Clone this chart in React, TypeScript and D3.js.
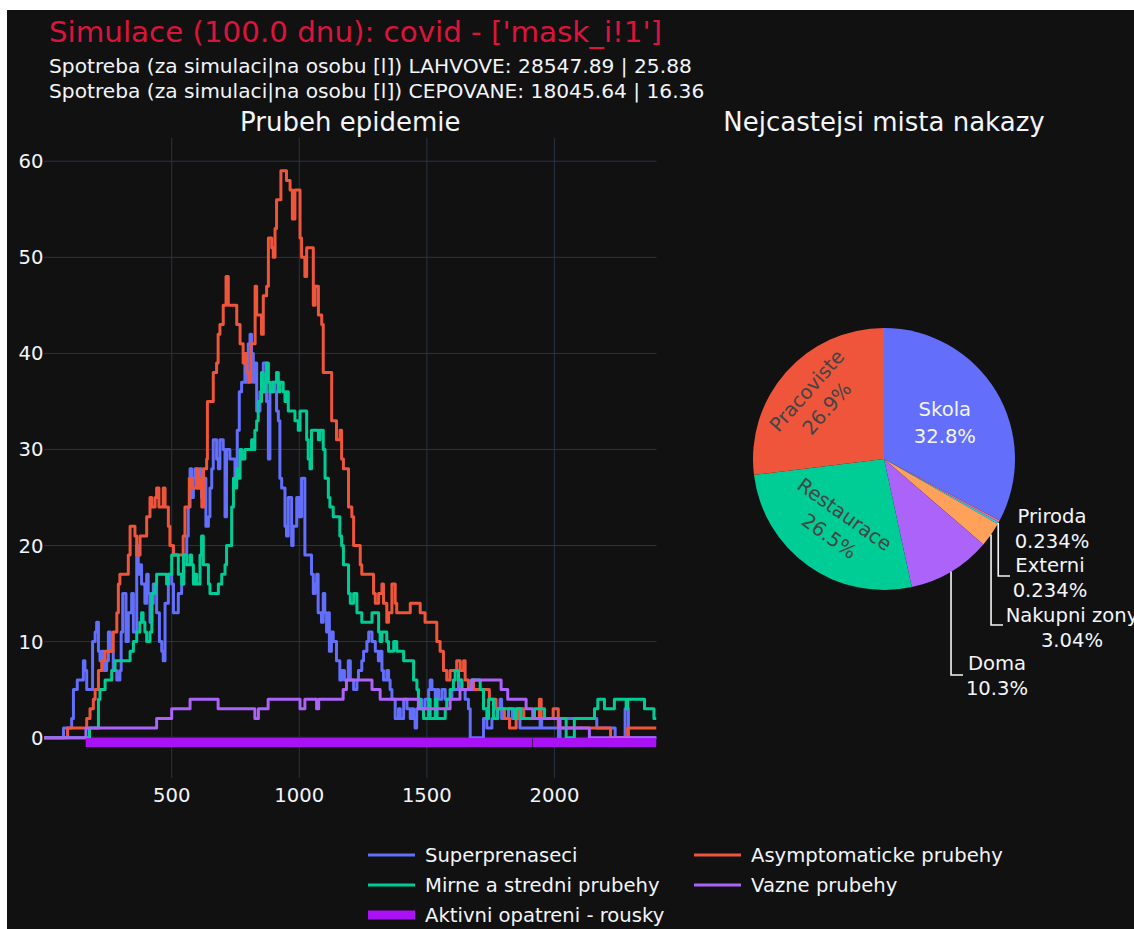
import React from "react";
import * as d3 from "d3";

// ---------------- DATA ----------------
const titleText = "Simulace (100.0 dnu): covid - ['mask_i!1']";
const subtitleLines = [
  "Spotreba (za simulaci|na osobu [l]) LAHVOVE: 28547.89 | 25.88",
  "Spotreba (za simulaci|na osobu [l]) CEPOVANE: 18045.64 | 16.36",
];
const lineTitle = "Prubeh epidemie";
const pieTitle = "Nejcastejsi mista nakazy";

const xTicks = [500, 1000, 1500, 2000];
const yTicks = [0, 10, 20, 30, 40, 50, 60];

const seriesNames = [
  "Superprenaseci",
  "Asymptomaticke prubehy",
  "Mirne a stredni prubehy",
  "Vazne prubehy",
  "Aktivni opatreni - rousky",
];

const superprenaseci: [number, number][] = [
  [0,0],[69,0],[76,1],[102,1],[108,2],[115,5],[130,6],[147,6],[154,8],[160,7],[167,5],[180,5],[190,10],[200,11],[206,12],[213,9],[219,8],[226,9],[235,7],[245,8],[252,11],[260,9],[271,7],[285,6],[297,7],[302,11],[308,15],[321,10],[330,13],[343,15],[350,11],[363,20],[369,17],[376,18],[382,16],[395,14],[402,17],[408,15],[415,12],[422,14],[428,16],[435,16],[441,13],[452,10],[461,9],[467,8],[474,14],[487,17],[500,16],[507,13],[520,13],[526,15],[539,16],[548,19],[559,21],[565,24],[572,28],[578,25],[585,27],[591,28],[598,26],[611,28],[617,25],[627,27],[634,22],[644,23],[650,26],[657,28],[663,31],[676,29],[683,28],[689,31],[702,30],[709,23],[715,30],[728,29],[748,27],[757,32],[765,36],[774,37],[787,39],[794,37],[800,41],[807,42],[813,40],[820,37],[827,39],[833,34],[846,36],[853,36],[859,39],[872,35],[879,29],[885,36],[892,37],[905,36],[911,34],[918,33],[924,27],[931,26],[944,22],[950,21],[957,25],[970,20],[976,22],[990,25],[1000,23],[1009,27],[1016,27],[1022,19],[1042,19],[1048,17],[1055,15],[1062,16],[1068,17],[1074,13],[1087,12],[1094,15],[1100,13],[1107,11],[1114,13],[1118,9],[1126,11],[1133,10],[1146,8],[1159,6],[1166,7],[1177,6],[1192,8],[1200,6],[1213,5],[1226,6],[1232,7],[1245,8],[1252,9],[1265,10],[1272,11],[1285,10],[1298,9],[1310,8],[1317,9],[1324,7],[1330,6],[1343,7],[1350,6],[1356,5],[1363,4],[1376,2],[1389,3],[1396,2],[1409,4],[1422,3],[1435,2],[1441,3],[1448,2],[1454,1],[1460,3],[1467,4],[1480,3],[1493,4],[1507,5],[1513,6],[1520,5],[1533,4],[1540,5],[1546,4],[1559,5],[1572,4],[1598,5],[1624,6],[1637,5],[1650,4],[1663,3],[1670,0],[1715,0],[1722,2],[1735,1],[1755,2],[1775,3],[1787,4],[1793,2],[1820,3],[1835,2],[1853,3],[1865,1],[1944,2],[1950,1],[2016,0],[2022,2],[2153,2],[2166,1],[2238,0],[2277,3],[2290,0],[2400,0],
];

const asymptomaticke: [number, number][] = [
  [0,0],[92,1],[160,1],[167,2],[180,3],[193,4],[200,5],[213,7],[226,8],[239,9],[258,9],[271,11],[285,13],[291,16],[297,17],[324,17],[330,19],[337,22],[350,22],[356,21],[363,19],[376,21],[390,21],[402,23],[415,25],[422,24],[435,25],[441,26],[450,24],[467,26],[474,24],[487,22],[493,20],[507,19],[539,19],[545,21],[552,24],[560,24],[569,27],[580,26],[598,28],[605,26],[612,27],[618,24],[625,28],[637,29],[640,35],[650,35],[663,38],[676,39],[682,42],[689,43],[702,45],[713,48],[722,45],[742,45],[755,43],[768,41],[780,39],[787,40],[794,38],[804,37],[810,41],[820,41],[827,47],[833,44],[840,44],[852,42],[859,46],[872,47],[879,52],[892,51],[898,50],[905,53],[911,56],[924,56],[928,59],[944,59],[950,58],[964,57],[973,54],[983,57],[996,57],[1003,52],[1009,50],[1022,48],[1029,51],[1042,51],[1055,45],[1062,47],[1075,44],[1088,43],[1094,38],[1120,38],[1127,33],[1140,33],[1146,31],[1160,32],[1166,29],[1173,28],[1186,28],[1193,24],[1206,23],[1213,20],[1232,20],[1239,18],[1245,17],[1285,17],[1291,15],[1298,14],[1311,15],[1324,16],[1330,14],[1343,12],[1350,13],[1363,16],[1376,14],[1382,13],[1428,13],[1435,14],[1455,14],[1474,13],[1493,12],[1526,12],[1539,10],[1552,9],[1565,7],[1578,6],[1591,7],[1617,8],[1631,7],[1644,8],[1650,6],[1663,5],[1676,6],[1683,5],[1745,4],[1771,3],[1804,2],[1824,1],[1843,1],[1850,2],[1863,3],[1880,2],[1941,4],[1948,2],[1995,3],[2007,3],[2015,1],[2220,0],[2287,1],[2400,1],
];

const mirne: [number, number][] = [
  [0,0],[175,0],[178,1],[208,1],[213,4],[219,5],[235,5],[239,6],[260,6],[265,7],[278,8],[330,8],[337,9],[350,10],[363,11],[375,12],[382,13],[388,12],[395,11],[402,10],[415,11],[422,15],[435,16],[441,17],[474,17],[480,16],[487,17],[500,19],[520,19],[526,17],[539,16],[546,19],[559,18],[572,19],[578,18],[585,16],[591,17],[598,16],[611,19],[617,21],[624,18],[631,18],[644,16],[650,15],[676,15],[683,16],[696,17],[709,18],[715,20],[728,20],[735,24],[742,27],[748,26],[755,28],[761,27],[768,30],[775,29],[787,30],[813,31],[820,30],[826,32],[833,33],[839,35],[852,38],[859,36],[866,37],[872,39],[879,37],[885,36],[898,37],[911,38],[918,36],[924,37],[937,36],[944,35],[950,36],[957,34],[983,33],[996,32],[1003,34],[1022,34],[1029,31],[1035,29],[1042,28],[1048,32],[1068,32],[1075,31],[1081,32],[1094,30],[1101,27],[1114,25],[1120,24],[1133,23],[1150,23],[1159,21],[1166,20],[1173,18],[1186,18],[1193,15],[1200,14],[1213,15],[1226,13],[1245,12],[1278,12],[1285,13],[1304,13],[1311,11],[1317,10],[1324,11],[1337,11],[1343,10],[1350,9],[1370,10],[1382,9],[1409,8],[1441,8],[1448,6],[1461,5],[1467,4],[1474,3],[1487,2],[1507,4],[1513,2],[1533,4],[1540,2],[1572,3],[1578,4],[1591,5],[1604,6],[1611,7],[1624,6],[1637,5],[1676,6],[1709,5],[1722,3],[1735,2],[1742,4],[1761,2],[1778,3],[1843,2],[1850,3],[1869,2],[1922,3],[1961,2],[2046,0],[2078,2],[2157,3],[2170,4],[2196,3],[2235,4],[2281,3],[2287,4],[2353,3],[2390,2],[2400,2],
];

const vazne: [number, number][] = [
  [0,0],[164,1],[441,2],[500,3],[572,4],[682,3],[826,2],[840,3],[878,4],[1003,3],[1022,4],[1068,3],[1076,4],[1172,5],[1185,6],[1285,5],[1317,4],[1467,3],[1591,4],[1630,5],[1676,6],[1791,5],[1817,4],[1889,3],[1915,2],[2020,1],[2137,0],[2400,0],
];

// mask measure active intervals (start, end) drawn at a fixed level below zero
const rouskyStart = [163, 1916];
const rouskyEnd = [1916, 2400];
const rouskyLevel = -0.5;

// pie: infection places (counts), in clockwise drawing order from 12 o'clock
const pieLabels = ["Skola", "Priroda", "Externi", "Nakupni zony", "Doma", "Restaurace", "Pracoviste"];
const pieCounts = [140, 1, 1, 13, 44, 113, 115];

// ---------------- STYLE / LAYOUT ----------------
const W = 1134;
const H = 929;
const BG = "#111111";
const GRID = "#283442";
const TXT = "#f2f5fa";
const FONT = "'DejaVu Sans', Verdana, sans-serif";
const lineColors = ["#636efa", "#EF553B", "#00cc96", "#ab63fa", "#a912f5"];
const pieColors: Record<string, string> = {
  Skola: "#636efa",
  Pracoviste: "#EF553B",
  Restaurace: "#00cc96",
  Doma: "#ab63fa",
  "Nakupni zony": "#FFA15A",
  Externi: "#19d3f3",
  Priroda: "#FF6692",
};
// inside label placement
const insideCfg: Record<string, { r: number; orient: "h" | "t"; color: string }> = {
  Skola: { r: 71, orient: "h", color: TXT },
  Pracoviste: { r: 90, orient: "t", color: "#444" },
  Restaurace: { r: 81, orient: "t", color: "#444" },
};
// outside label placement
const outsideCfg: Record<string, { cx: number; b: number; lead?: [number, number] }> = {
  Priroda: { cx: 1052, b: 523 },
  Externi: { cx: 1050, b: 572, lead: [1010, 576] },
  "Nakupni zony": { cx: 1072, b: 622, lead: [1003, 625] },
  Doma: { cx: 997, b: 670, lead: [963, 675] },
};

export default function App() {
  const plot = { left: 44.1, right: 656.5, top: 138, bottom: 778 };
  const x = d3.scaleLinear().domain([0, 2400]).range([plot.left, plot.right]);
  const y = d3.scaleLinear().domain([-4.2, 62.42]).range([plot.bottom, plot.top]);
  const line = d3
    .line<[number, number]>()
    .x((d) => x(d[0]))
    .y((d) => y(d[1]))
    .curve(d3.curveStepAfter);

  const series = [superprenaseci, asymptomaticke, mirne, vazne];

  // pie
  const cx = 884, cy = 459, R = 131;
  const total = d3.sum(pieCounts);
  const pieData = pieLabels.map((l, i) => ({ label: l, value: pieCounts[i] }));
  const arcs = d3.pie<{ label: string; value: number }>().sort(null).value((d) => d.value).startAngle(0).endAngle(2 * Math.PI)(pieData);
  const arcGen = d3.arc<d3.PieArcDatum<{ label: string; value: number }>>().innerRadius(0).outerRadius(R);
  const pct = (v: number) => d3.format(".3r")((v / total) * 100) + "%";

  const legendCols = [368, 694];
  const legendRows = [855, 885, 915];
  const legendPos = [
    [0, 0],
    [1, 0],
    [0, 1],
    [1, 1],
    [0, 2],
  ];

  return (
    <svg
      width={W}
      height={H}
      style={{ position: "absolute", left: 0, top: 0, display: "block" }}
      fontFamily={FONT}
    >
      <rect width={W} height={H} fill="#ffffff" />
      <rect x={7} y={10} width={W - 7} height={H - 10} fill={BG} />

      {/* titles */}
      <text x={49} y={42} fill="#dc143c" fontSize={29} textLength={613} lengthAdjust="spacingAndGlyphs">
        {titleText}
      </text>
      {subtitleLines.map((s, i) => (
        <text key={i} x={49} y={73 + i * 25} fill={TXT} fontSize={20.2}>
          {s}
        </text>
      ))}
      <text x={(plot.left + plot.right) / 2} y={131} fill={TXT} fontSize={26} textAnchor="middle">
        {lineTitle}
      </text>
      <text x={cx} y={131} fill={TXT} fontSize={26} textAnchor="middle">
        {pieTitle}
      </text>

      {/* grid */}
      {xTicks.map((t) => (
        <line key={"gx" + t} x1={x(t)} x2={x(t)} y1={plot.top} y2={plot.bottom} stroke={GRID} strokeWidth={1} />
      ))}
      {yTicks.map((t) => (
        <line
          key={"gy" + t}
          x1={plot.left}
          x2={plot.right}
          y1={y(t)}
          y2={y(t)}
          stroke={GRID}
          strokeWidth={t === 0 ? 2 : 1}
        />
      ))}

      {/* tick labels */}
      {yTicks.map((t) => (
        <text key={"ty" + t} x={43.5} y={y(t) + 7} fill={TXT} fontSize={19.6} textAnchor="end">
          {t}
        </text>
      ))}
      {xTicks.map((t) => (
        <text key={"tx" + t} x={x(t)} y={802} fill={TXT} fontSize={19.6} textAnchor="middle">
          {t}
        </text>
      ))}

      {/* lines */}
      <g clipPath="url(#plotclip)">
        <clipPath id="plotclip">
          <rect x={plot.left} y={plot.top} width={plot.right - plot.left} height={plot.bottom - plot.top} />
        </clipPath>
        {series.map((s, i) => (
          <path key={"s" + i} d={line(s) || ""} fill="none" stroke={lineColors[i]} strokeWidth={3} strokeLinejoin="round" />
        ))}
        {rouskyStart.map((s, i) => (
          <line
            key={"r" + i}
            x1={x(s)}
            x2={x(rouskyEnd[i]) - (i === 0 ? 0.6 : 0)}
            y1={y(rouskyLevel)}
            y2={y(rouskyLevel)}
            stroke={lineColors[4]}
            strokeWidth={9}
          />
        ))}
      </g>

      {/* pie */}
      <g transform={`translate(${cx},${cy})`}>
        {arcs.map((a) => (
          <path key={a.data.label} d={arcGen(a) || ""} fill={pieColors[a.data.label]} />
        ))}
      </g>
      {arcs.map((a) => {
        const cfg = insideCfg[a.data.label];
        if (!cfg) return null;
        const mid = (a.startAngle + a.endAngle) / 2;
        const px = cx + cfg.r * Math.sin(mid);
        const py = cy - cfg.r * Math.cos(mid);
        let rot = 0;
        if (cfg.orient === "t") {
          const th = (Math.atan2(-Math.cos(mid), Math.sin(mid)) * 180) / Math.PI;
          rot = th + 90;
          while (rot > 90) rot -= 180;
          while (rot <= -90) rot += 180;
        }
        return (
          <g key={"in" + a.data.label} transform={`translate(${px},${py}) rotate(${rot})`}>
            <text x={0} y={-6.2} fill={cfg.color} fontSize={19.6} textAnchor="middle">
              {a.data.label}
            </text>
            <text x={0} y={20.4} fill={cfg.color} fontSize={19.6} textAnchor="middle">
              {pct(a.data.value)}
            </text>
          </g>
        );
      })}
      {arcs.map((a) => {
        const cfg = outsideCfg[a.data.label];
        if (!cfg) return null;
        const mid = (a.startAngle + a.endAngle) / 2;
        const sx = cx + R * Math.sin(mid);
        const sy = cy - R * Math.cos(mid);
        return (
          <g key={"out" + a.data.label}>
            {cfg.lead && (
              <path
                d={`M${sx},${sy}V${cfg.lead[1]}H${cfg.lead[0]}`}
                fill="none"
                stroke={TXT}
                strokeWidth={1.6}
              />
            )}
            <text x={cfg.cx} y={cfg.b} fill={TXT} fontSize={19.6} textAnchor="middle">
              {a.data.label}
            </text>
            <text x={cfg.cx} y={cfg.b + 25} fill={TXT} fontSize={19.6} textAnchor="middle">
              {pct(a.data.value)}
            </text>
          </g>
        );
      })}

      {/* legend */}
      {seriesNames.map((n, i) => {
        const [c, r] = legendPos[i];
        const lx = legendCols[c];
        const ly = legendRows[r];
        return (
          <g key={"lg" + i}>
            <line x1={lx} x2={lx + 47} y1={ly} y2={ly} stroke={lineColors[i]} strokeWidth={i === 4 ? 9 : 3} />
            <text x={lx + 57} y={ly + 7} fill={TXT} fontSize={19.6}>
              {n}
            </text>
          </g>
        );
      })}
    </svg>
  );
}
